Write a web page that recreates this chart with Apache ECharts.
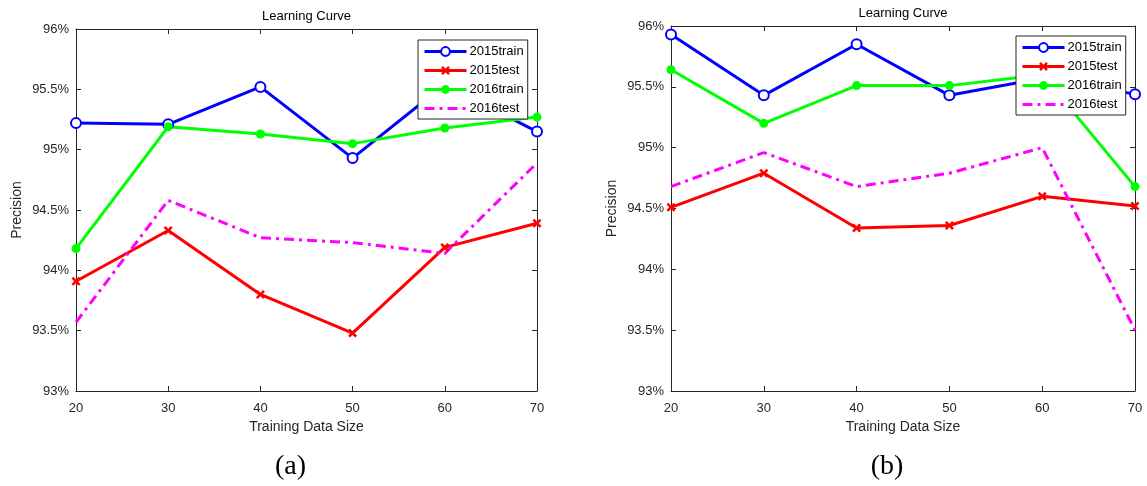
<!DOCTYPE html>
<html><head><meta charset="utf-8">
<script src="https://cdn.jsdelivr.net/npm/echarts@6/dist/echarts.min.js"></script>
<style>html,body{margin:0;padding:0;background:#fff}#c{width:1147px;height:486px}</style>
</head><body><div id="c"></div>
<script>
// ---- data ----
const sizes = [20, 30, 40, 50, 60, 70];
const seriesNames = ['2015train', '2015test', '2016train', '2016test'];
const yTicks = [93, 93.5, 94, 94.5, 95, 95.5, 96];
const panelCaptions = ['(a)', '(b)'];
const chartTitle = 'Learning Curve';
const xName = 'Training Data Size';
const yName = 'Precision';

const a2015train = [95.22, 95.21, 95.52, 94.93, 95.54, 95.15];
const a2015test  = [93.91, 94.33, 93.80, 93.48, 94.19, 94.39];
const a2016train = [94.18, 95.19, 95.13, 95.05, 95.18, 95.27];
const a2016test  = [93.57, 94.58, 94.27, 94.23, 94.14, 94.89];

const b2015train = [95.93, 95.43, 95.85, 95.43, 95.57, 95.44];
const b2015test  = [94.51, 94.79, 94.34, 94.36, 94.60, 94.52];
const b2016train = [95.64, 95.20, 95.51, 95.51, 95.60, 94.68];
const b2016test  = [94.68, 94.96, 94.68, 94.79, 95.00, 93.50];

const panels = [
  [a2015train, a2015test, a2016train, a2016test],
  [b2015train, b2015test, b2016train, b2016test]
];

// ---- styling ----
const FONT = '"Liberation Sans", Arial, sans-serif';
const TXT = '#262626';
const colors = ['#0000ff', '#ff0000', '#00ff00', '#ff00ff'];
const starPath = 'path://M2,0 L5,3 L8,0 L10,2 L7,5 L10,8 L8,10 L5,7 L2,10 L0,8 L3,5 L0,2 Z';
const seriesStyle = [
  { symbol: 'emptyCircle', symbolSize: 10, itemStyle: { color: colors[0], borderWidth: 2.5 }, lineStyle: { color: colors[0], width: 3 } },
  { symbol: starPath, symbolSize: 9, itemStyle: { color: colors[1] }, lineStyle: { color: colors[1], width: 3 } },
  { symbol: 'circle', symbolSize: 9, itemStyle: { color: colors[2] }, lineStyle: { color: colors[2], width: 3 } },
  { symbol: 'none', symbolSize: 0, itemStyle: { color: colors[3] }, lineStyle: { color: colors[3], width: 3, type: [10, 5, 3, 5] } }
];

const grids = [
  { left: 76, top: 29, width: 461, height: 362 },
  { left: 671, top: 26, width: 464, height: 365 }
];
const legendPos = [ { left: 418, top: 40 }, { left: 1016, top: 36 } ];

const axisLine = { show: true, lineStyle: { color: TXT, width: 1 } };
const xAxes = [], yAxes = [], series = [], legends = [], graphics = [];

grids.forEach((g, i) => {
  const xCommon = { type: 'value', gridIndex: i, min: sizes[0], max: sizes[sizes.length - 1], interval: 10,
    splitLine: { show: false }, axisLine, axisTick: { show: true, inside: true, length: 5, lineStyle: { color: TXT } } };
  xAxes.push(Object.assign({}, xCommon, {
    position: 'bottom',
    axisLabel: { color: TXT, fontSize: 13, fontFamily: FONT, margin: 11 },
    name: xName, nameLocation: 'middle', nameGap: 27,
    nameTextStyle: { color: TXT, fontSize: 14, fontFamily: FONT }
  }));
  xAxes.push(Object.assign({}, xCommon, { position: 'top', axisLabel: { show: false } }));
  const yCommon = { type: 'value', gridIndex: i, min: yTicks[0], max: yTicks[yTicks.length - 1], interval: 0.5,
    splitLine: { show: false }, axisLine, axisTick: { show: true, inside: true, length: 5, lineStyle: { color: TXT } } };
  yAxes.push(Object.assign({}, yCommon, {
    position: 'left',
    axisLabel: { color: TXT, fontSize: 13, fontFamily: FONT, margin: 7, formatter: v => (+v.toFixed(1)) + '%' },
    name: yName, nameLocation: 'middle', nameGap: 52, nameRotate: 90,
    nameTextStyle: { color: TXT, fontSize: 14, fontFamily: FONT }
  }));
  yAxes.push(Object.assign({}, yCommon, { position: 'right', axisLabel: { show: false } }));

  panels[i].forEach((vals, k) => {
    series.push(Object.assign({
      name: seriesNames[k], type: 'line', xAxisIndex: i * 2, yAxisIndex: i * 2,
      data: sizes.map((s, j) => [s, vals[j]]), showAllSymbol: true, animation: false, z: 2,
      emphasis: { disabled: true }
    }, seriesStyle[k]));
  });

  legends.push({
    data: seriesNames.map((n, k) => k === 3 ? { name: n, itemStyle: { opacity: 0 } } : { name: n }),
    orient: 'vertical', left: legendPos[i].left, top: legendPos[i].top, z: 20,
    backgroundColor: '#fff', borderColor: TXT, borderWidth: 1, padding: [5, 4, 4, 5],
    itemWidth: 42, itemHeight: 11, itemGap: 6, selectedMode: false,
    lineStyle: { width: 3 },
    textStyle: { color: '#000', fontSize: 13, fontFamily: FONT, padding: [0, 0, 0, -2] }
  });

  graphics.push({ type: 'text', x: g.left + g.width / 2, y: g.top - 13,
    style: { text: chartTitle, fill: '#000', font: '13px ' + FONT, textAlign: 'center', textVerticalAlign: 'middle' } });
  graphics.push({ type: 'text', x: g.left + g.width / 2 - 16, y: 467,
    style: { text: panelCaptions[i], fill: '#000', font: '28px "Liberation Serif", "Times New Roman", serif', textAlign: 'center', textVerticalAlign: 'middle' } });
});

const chart = echarts.init(document.getElementById('c'), null, { renderer: 'canvas' });
chart.setOption({
  backgroundColor: '#fff',
  animation: false,
  grid: grids,
  xAxis: xAxes,
  yAxis: yAxes,
  legend: legends,
  series: series,
  graphic: graphics
});
</script></body></html>
